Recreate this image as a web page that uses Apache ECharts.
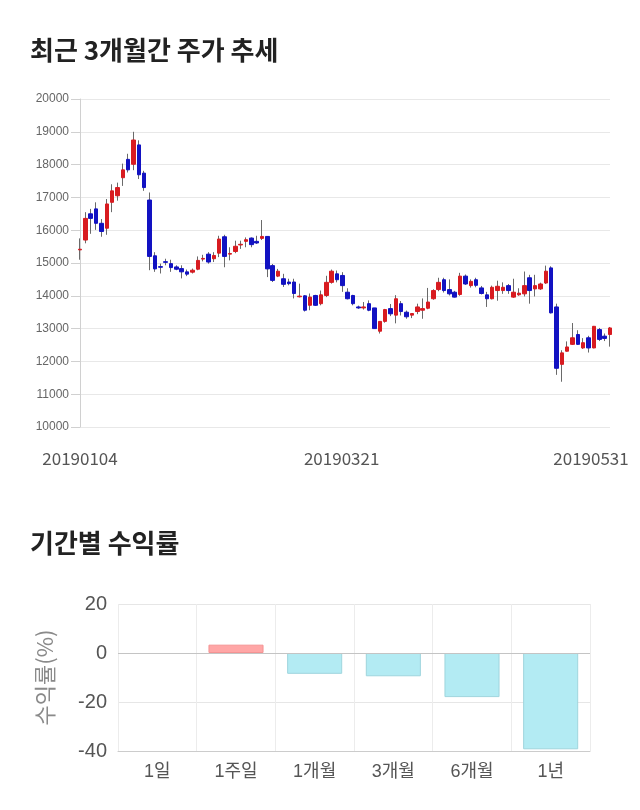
<!DOCTYPE html>
<html>
<head>
<meta charset="utf-8">
<script src="https://cdn.jsdelivr.net/npm/echarts@6/dist/echarts.min.js"></script>
<style>
html,body{margin:0;padding:0;background:#fff;}
#chart{width:640px;height:810px;}
</style>
</head>
<body>
<div id="chart"></div>
<script>
const dates = [
'20190104','20190107','20190108','20190109','20190110','20190111','20190114','20190115','20190116','20190117',
'20190118','20190121','20190122','20190123','20190124','20190125','20190128','20190129','20190130','20190131',
'20190201','20190207','20190208','20190211','20190212','20190213','20190214','20190215','20190218','20190219',
'20190220','20190221','20190222','20190225','20190226','20190227','20190228','20190304','20190305','20190306',
'20190307','20190308','20190311','20190312','20190313','20190314','20190315','20190318','20190319','20190320',
'20190321','20190322','20190325','20190326','20190327','20190328','20190329','20190401','20190402','20190403',
'20190404','20190405','20190408','20190409','20190410','20190411','20190412','20190415','20190416','20190417',
'20190418','20190419','20190422','20190423','20190424','20190425','20190426','20190429','20190430','20190502',
'20190503','20190507','20190508','20190509','20190510','20190513','20190514','20190515','20190516','20190517',
'20190520','20190521','20190522','20190523','20190524','20190527','20190528','20190529','20190530','20190531'
];
const openPrices = [
15400,15700,16500,16650,16210,16060,16850,17050,17600,18160,
18010,18600,17740,16920,15220,14890,15040,14980,14880,14830,
14730,14720,14810,15120,15270,15130,15300,15800,15270,15350,
15550,15660,15760,15660,15750,15810,14920,14600,14520,14420,
14420,13970,14000,13710,14010,13760,14010,14410,14670,14620,
14110,14010,13660,13630,13760,13630,12920,13220,13610,13410,
13760,13500,13410,13520,13560,13620,13910,14190,14490,14190,
14110,14040,14600,14310,14490,14240,14030,13910,14160,14160,
14310,13960,14030,14060,14550,14210,14210,14390,14850,13660,
11910,12310,12520,12820,12410,12720,12410,12970,12770,12820
];
const closePrices = [
15420,16360,16360,16210,15960,16800,17200,17300,17840,17840,
18750,17690,17300,15200,14820,14870,15020,14860,14810,14730,
14660,14780,15080,15140,15030,15230,15730,15200,15290,15510,
15570,15710,15560,15610,15810,14820,14470,14750,14350,14370,
14070,13990,13560,13960,13710,14030,14410,14750,14490,14310,
13910,13760,13630,13660,13560,13000,13220,13580,13450,13910,
13520,13360,13460,13660,13610,13810,14160,14410,14160,14060,
13960,14600,14360,14440,14320,14070,13910,14260,14290,14260,
14160,14110,14080,14310,14160,14310,14360,14750,13480,11790,
12260,12440,12720,12520,12570,12410,13070,12670,12700,13020
];
const lowPrices = [
15100,15600,15890,16010,15800,15860,16550,16900,17350,17760,
17830,17560,17200,14780,14730,14680,14930,14730,14780,14530,
14600,14680,14780,15050,14980,15030,15180,14870,15080,15300,
15430,15480,15480,15580,15700,14570,14420,14570,14270,14320,
13920,13950,13520,13560,13690,13710,13960,14370,14410,14120,
13890,13710,13600,13580,13530,13000,12850,13180,13380,13160,
13400,13300,13320,13440,13300,13590,13880,14140,14100,14010,
13950,14000,14330,14250,14260,14040,13660,13890,13850,14060,
14060,13940,14000,13980,13760,13980,14180,14360,13460,11590,
11380,12300,12500,12500,12380,12270,12400,12620,12620,12450
];
const highPrices = [
15750,16550,16650,16850,16340,16950,17400,17450,18030,18330,
19000,18740,17810,17150,15330,14980,15130,15100,14930,14930,
14800,14830,15200,15250,15330,15330,15830,15860,15480,15680,
15680,15780,15780,15830,16310,15810,14970,14820,14670,14520,
14520,14370,14020,14070,14030,14160,14610,14800,14770,14720,
14230,14030,13700,13810,13860,13630,13220,13600,13750,14020,
13840,13550,13470,13760,13920,14240,14200,14550,14550,14500,
14150,14700,14650,14500,14550,14300,14120,14310,14460,14410,
14360,14520,14230,14740,14640,14640,14400,14920,14900,13760,
12340,12610,13170,12950,12710,12780,13080,13020,12850,13050
];
const yTicks = [10000, 20000, 1000];

const periods = ['1일','1주일','1개월','3개월','6개월','1년'];
const returns = [0, 3.4, -8.5, -9.5, -18.0, -39.3];

const UP = '#d81b20', DOWN = '#1212c2', WICK = '#6a6a6a';
const wickData = dates.map((d, i) => [openPrices[i], closePrices[i], lowPrices[i], highPrices[i]]);
const bodyData = dates.map((d, i) => {
  const o = openPrices[i], c = closePrices[i];
  return [o, c, Math.min(o, c), Math.max(o, c)];
});

const chart = echarts.init(document.getElementById('chart'), null, {renderer: 'canvas'});
const CJK = "'Noto Sans CJK KR', sans-serif";
const LAT = "'Liberation Sans', 'Noto Sans CJK KR', sans-serif";

chart.setOption({
  animation: false,
  backgroundColor: '#fff',
  title: [
    {text: '최근 3개월간 주가 추세', left: 25, top: 32,
     textStyle: {fontFamily: CJK, fontSize: 26, fontWeight: 'bold', color: '#222'}},
    {text: '기간별 수익률', left: 25, top: 525,
     textStyle: {fontFamily: CJK, fontSize: 26, fontWeight: 'bold', color: '#222'}}
  ],
  grid: [
    {left: 80, right: 30, top: 99, height: 328},
    {left: 118, right: 50, top: 604, height: 147}
  ],
  xAxis: [
    {
      gridIndex: 0, type: 'category', data: dates, boundaryGap: false,
      axisLine: {show: false}, axisTick: {show: false}, splitLine: {show: false},
      axisLabel: {
        interval: (i) => i === 0 || i === 50 || i === 99,
        showMaxLabel: true, showMinLabel: true,
        margin: 23, fontFamily: CJK, fontSize: 17, color: '#555',
        formatter: (v, i) => i === 99 ? '{r|' + v + '}' : (i === 50 ? '{m|' + v + '}' : v),
        rich: {
          r: {fontFamily: CJK, fontSize: 17, color: '#555', padding: [0, 38, 0, 0]},
          m: {fontFamily: CJK, fontSize: 17, color: '#555', padding: [0, 12, 0, 0]}
        }
      }
    },
    {
      gridIndex: 1, type: 'category', data: periods,
      axisLine: {show: true, onZero: false, lineStyle: {color: '#ccc'}},
      axisTick: {show: false},
      splitLine: {show: true, lineStyle: {color: '#ececec'}},
      axisLabel: {margin: 12, fontFamily: LAT, fontSize: 18, color: '#555'}
    }
  ],
  yAxis: [
    {
      gridIndex: 0, type: 'value', min: yTicks[0], max: yTicks[1], interval: yTicks[2],
      axisLine: {show: true, lineStyle: {color: '#d0d0d0'}},
      axisTick: {show: true, length: 9, lineStyle: {color: '#d0d0d0'}},
      splitLine: {lineStyle: {color: '#e8e8e8'}},
      axisLabel: {margin: 11, fontFamily: LAT, fontSize: 12, color: '#666', formatter: (v) => String(v)}
    },
    {
      gridIndex: 1, type: 'value', min: -40, max: 20, interval: 20,
      name: '수익률(%)', nameLocation: 'middle', nameGap: 62, nameRotate: 90,
      nameTextStyle: {fontFamily: CJK, fontSize: 22, color: '#8a8a8a'},
      axisLine: {show: false}, axisTick: {show: false},
      splitLine: {lineStyle: {color: '#e6e6e6'}},
      axisLabel: {margin: 11, fontFamily: LAT, fontSize: 20, color: '#555'}
    }
  ],
  series: [
    {
      type: 'candlestick', xAxisIndex: 0, yAxisIndex: 0, data: wickData,
      barWidth: 1, clip: false, silent: true,
      itemStyle: {color: WICK, color0: WICK, borderColor: WICK, borderColor0: WICK, borderWidth: 1}
    },
    {
      type: 'candlestick', xAxisIndex: 0, yAxisIndex: 0, data: bodyData,
      barWidth: 4, clip: false, silent: true,
      itemStyle: {color: UP, color0: DOWN, borderColor: UP, borderColor0: DOWN, borderWidth: 1}
    },
    {
      type: 'bar', xAxisIndex: 1, yAxisIndex: 1, barCategoryGap: '30%',
      data: returns.map(v => ({
        value: v,
        itemStyle: v > 0
          ? {color: '#ffa6a6', borderColor: '#f49393', borderWidth: 1}
          : (v < 0 ? {color: '#b3ebf3', borderColor: '#9fd5dd', borderWidth: 1}
                   : {color: 'transparent', borderWidth: 0})
      })),
      markLine: {
        silent: true, symbol: 'none', label: {show: false},
        lineStyle: {color: '#c4c4c4', type: 'solid', width: 1},
        data: [{yAxis: 0}]
      }
    }
  ]
});
</script>
</body>
</html>
